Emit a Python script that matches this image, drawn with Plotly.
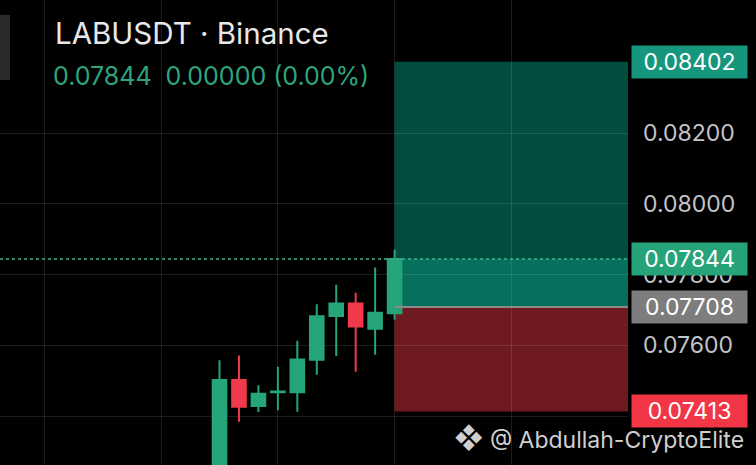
import plotly.graph_objects as go

# LABUSDT candles (price)
bar_idx = list(range(10))
opens = [0.07240, 0.07502, 0.07428, 0.07467, 0.07467, 0.07559, 0.07683, 0.07718, 0.07647, 0.07691]
highs = [0.07558, 0.07571, 0.07487, 0.07539, 0.07613, 0.07716, 0.07771, 0.07749, 0.07820, 0.07870]
lows = [0.07220, 0.07384, 0.07411, 0.07416, 0.07412, 0.07517, 0.07570, 0.07525, 0.07573, 0.07672]
closes = [0.07502, 0.07426, 0.07463, 0.07469, 0.07560, 0.07682, 0.07718, 0.07653, 0.07692, 0.07844]

# long position tool
take_profit = 0.08402
entry = 0.07708
stop_loss = 0.07413
last_price = 0.07844

price_ticks = [0.07400, 0.07600, 0.07800, 0.08000, 0.08200]
price_text = ['', '0.07600', '0.07800', '0.08000', '0.08200']
grid_bars = [-9, -3, 3, 9, 15, 21]

UP = '#26a57b'
DOWN = '#f0394b'
FONT = 'Inter'

fig = go.Figure()

fig.add_trace(go.Candlestick(
    x=bar_idx, open=opens, high=highs, low=lows, close=closes,
    increasing=dict(line=dict(color=UP, width=2), fillcolor=UP),
    decreasing=dict(line=dict(color=DOWN, width=2), fillcolor=DOWN),
    whiskerwidth=0,
    hoverinfo='skip',
    showlegend=False,
))

box_x0 = bar_idx[-1]
box_x1 = grid_bars[-1]

# profit / loss zones
fig.add_shape(type='rect', xref='x', yref='y', x0=box_x0, x1=box_x1,
              y0=last_price, y1=take_profit, fillcolor='#034c40',
              line=dict(width=0), layer='below')
fig.add_shape(type='rect', xref='x', yref='y', x0=box_x0, x1=box_x1,
              y0=entry, y1=last_price, fillcolor='#07705d',
              line=dict(width=0), layer='below')
fig.add_shape(type='rect', xref='x', yref='y', x0=box_x0, x1=box_x1,
              y0=stop_loss, y1=entry, fillcolor='#6f1a21',
              line=dict(width=0), layer='below')
fig.add_shape(type='line', xref='x', yref='y', x0=box_x0, x1=box_x1,
              y0=entry, y1=entry, line=dict(color='#8a8a8a', width=2))

# last price dotted line
fig.add_shape(type='line', xref='paper', yref='y', x0=0, x1=1,
              y0=last_price, y1=last_price,
              line=dict(color='#3fb58e', width=1.5, dash='dot'))

# bit of the app's side button
fig.add_shape(type='rect', xref='paper', yref='paper', x0=-0.01, x1=0.016,
              y0=0.828, y1=0.968, fillcolor='#2b2b2b', line=dict(width=0))

# price labels on the axis
labels = [
    (take_profit, '#16977d'),
    (last_price, '#27a37a'),
    (entry, '#7d7d7d'),
    (stop_loss, '#f23645'),
]
for val, col in labels:
    fig.add_annotation(
        x=1.098, xref='paper', y=val, yref='y', text=f'{val:.5f}',
        showarrow=False, xanchor='center', yanchor='middle',
        bgcolor=col, width=113, height=30,
        font=dict(family=FONT, size=23, color='white'),
    )

fig.add_annotation(
    x=0.084, xref='paper', y=1 - 33 / 465, yref='paper',
    text='LABUSDT · Binance', showarrow=False,
    xanchor='left', yanchor='middle',
    font=dict(family=FONT, size=29.5, color='#e8e8e8'),
)
fig.add_annotation(
    x=0.081, xref='paper', y=1 - 76 / 465, yref='paper',
    text=f'{last_price:.5f}  0.00000 (0.00%)', showarrow=False,
    xanchor='left', yanchor='middle',
    font=dict(family=FONT, size=25, color='#2ea57f'),
)
fig.add_annotation(
    x=1.188, xref='paper', y=1 - 438 / 465, yref='paper',
    text='<span style="font-size:28px">❖</span> @ Abdullah-CryptoElite',
    showarrow=False, xanchor='right', yanchor='middle',
    font=dict(family=FONT, size=23, color='#cfcfcf'),
)

fig.update_layout(
    width=756, height=465,
    margin=dict(l=0, r=128, t=0, b=0),
    paper_bgcolor='black', plot_bgcolor='black',
    boxgap=0.3, boxgroupgap=0,
    hovermode=False,
    xaxis=dict(range=[-11.285, 21.0], tickvals=grid_bars,
               showticklabels=False, showgrid=True,
               gridcolor='rgba(255,255,255,0.11)', gridwidth=1,
               zeroline=False, rangeslider=dict(visible=False),
               fixedrange=True),
    yaxis=dict(range=[0.072614, 0.085768], side='right',
               tickvals=price_ticks, ticktext=price_text, ticks='',
               ticklabelstandoff=14,
               tickfont=dict(family=FONT, size=23, color='#c2c4c8'),
               showgrid=True, gridcolor='rgba(255,255,255,0.11)',
               gridwidth=1, zeroline=False, fixedrange=True),
)

fig.write_html('out.html', config=dict(displayModeBar=False),
               post_script="document.body.style.margin='0';")
